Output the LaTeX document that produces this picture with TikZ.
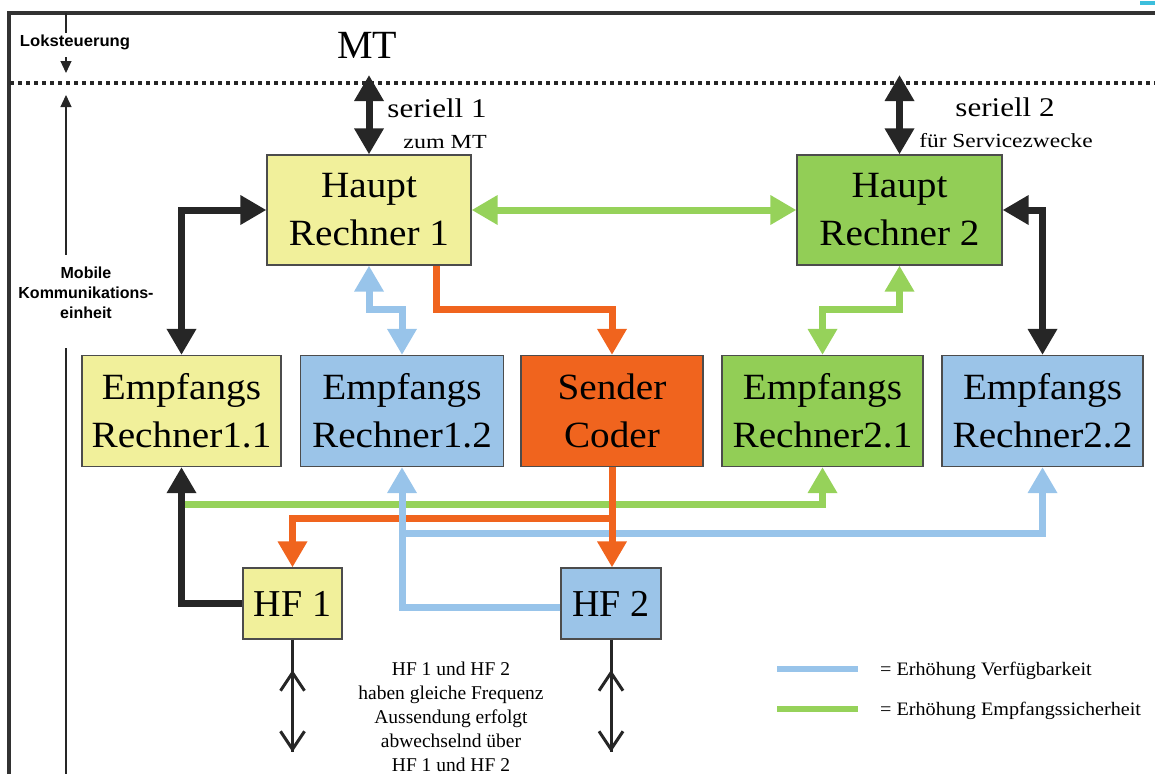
\documentclass[tikz,border=0pt]{standalone}
\usepackage{fontspec}
\setmainfont{Liberation Serif}
\newfontfamily\lsans{Liberation Sans}
\usepackage{graphicx}
\usetikzlibrary{arrows.meta}
\definecolor{dk}{RGB}{38,38,38}
\definecolor{frm}{RGB}{50,50,50}
\definecolor{ybox}{RGB}{241,240,155}
\definecolor{bbox}{RGB}{155,196,232}
\definecolor{gbox}{RGB}{146,206,86}
\definecolor{obox}{RGB}{240,100,30}
\definecolor{gln}{RGB}{150,210,90}
\definecolor{bln}{RGB}{152,196,234}
\definecolor{oln}{RGB}{240,100,30}
\definecolor{cy}{RGB}{60,190,220}
\newcommand\sx[2][1.06]{\scalebox{#1}[1]{#2}}
\begin{document}
\begin{tikzpicture}[x=1pt,y=-1pt,
  >={Triangle[length=26pt,width=28pt]},
  box/.style={draw=black!70,line width=1.2pt,inner sep=0pt,align=center,font=\fontsize{37}{48}\selectfont},
  hrbox/.style={box,minimum width=204pt,minimum height=110pt},
  erbox/.style={box,minimum width=201pt,minimum height=111pt},
  hfbox/.style={box,minimum width=99pt,minimum height=71pt,font=\fontsize{38}{46}\selectfont},
  conn/.style={line width=7pt},
  blk/.style={conn,draw=dk},
  grn/.style={conn,draw=gln},
  blu/.style={conn,draw=bln},
  org/.style={conn,draw=oln},
  ant/.style={line width=3pt,draw=dk},
  thinl/.style={line width=1.2pt,draw=dk},
  lbl/.style={inner sep=0pt},
  sanslbl/.style={inner sep=0pt,align=center,font=\lsans\bfseries\fontsize{16}{20}\selectfont}
]
\useasboundingbox (0,0) rectangle (1155,774);
% frame
\coordinate (fbl) at (9,774);
\coordinate (ftl) at (9,13);
\coordinate (ftr) at (1155,13);
\draw[line width=3.5pt,draw=frm] (fbl) -- (ftl) -- (ftr);
\fill[cy] (1140,1) rectangle (1155,5);
% dotted separator
\coordinate (dl) at (10,83);
\coordinate (dr) at (1155,83);
\draw[line width=4pt,draw=dk,dash pattern=on 4pt off 4pt] (dl) -- (dr);
% left scale line
\coordinate (t0) at (66,13);
\coordinate (t1) at (66,33);
\coordinate (t2) at (66,57);
\coordinate (t3) at (66,73);
\coordinate (t4) at (66,95);
\coordinate (t5) at (66,255);
\coordinate (t6) at (66,348);
\coordinate (t7) at (66,774);
\draw[thinl] (t0) -- (t1);
\draw[thinl,-{Triangle[length=12pt,width=11pt]}] (t2) -- (t3);
\draw[thinl,{Triangle[length=12pt,width=11pt]}-] (t4) -- (t5);
\draw[thinl] (t6) -- (t7);
\node[sanslbl] (lok) at (75,42) {\sx[1.04]{Loksteuerung}};
\node[sanslbl] (mob) at (86,293) {Mobile\\Kommunikations-\\einheit};
% texts top
\node[lbl,font=\fontsize{40}{44}\selectfont] (mt) at (367,45) {MT};
\node[lbl,anchor=base,font=\fontsize{27}{30}\selectfont] (ser1) at (437,117) {\sx[1.15]{seriell 1}};
\node[lbl,anchor=base,font=\fontsize{20}{24}\selectfont] (zum) at (445,148) {\sx[1.2]{zum MT}};
\node[lbl,anchor=base,font=\fontsize{27}{30}\selectfont] (ser2) at (1005,116) {\sx[1.15]{seriell 2}};
\node[lbl,anchor=base,font=\fontsize{20}{24}\selectfont] (svc) at (1006,147) {\sx[1.17]{für Servicezwecke}};
% boxes
\node[hrbox,fill=ybox] (HR1) at (369,210) {\sx{Haupt}\\\sx{Rechner 1}};
\node[hrbox,fill=gbox,minimum width=205pt] (HR2) at (899.5,210) {\sx{Haupt}\\\sx{Rechner 2}};
\node[erbox,fill=ybox,minimum width=199pt] (E11) at (181.5,411) {\sx{Empfangs}\\\sx{Rechner1.1}};
\node[erbox,fill=bbox,minimum width=203pt] (E12) at (402,411) {\sx{Empfangs}\\\sx{Rechner1.2}};
\node[erbox,fill=obox,minimum width=182pt] (SC) at (612,411) {\sx{Sender}\\\sx{Coder}};
\node[erbox,fill=gbox] (E21) at (822.5,411) {\sx{Empfangs}\\\sx{Rechner2.1}};
\node[erbox,fill=bbox] (E22) at (1042.5,411) {\sx{Empfangs}\\\sx{Rechner2.2}};
\node[hfbox,fill=ybox] (HF1) at (292.5,603.5) {HF 1};
\node[hfbox,fill=bbox,minimum width=100pt] (HF2) at (611,603.5) {HF 2};
% upper connectors
\coordinate (s1) at (369,75);
\coordinate (s2) at (899.5,75);
\draw[blk,<->] (s1) -- (HR1.north);
\draw[blk,<->] (s2) -- (HR2.north);
\draw[grn,<->] (HR1.east) -- (HR2.west);
\draw[blk,<->] (E11.north) |- (HR1.west);
\draw[blk,<->] (HR2.east) -| (E22.north);
\draw[blu,<->] (HR1.south) -- ++(0,44) -| (E12.north);
\draw[grn,<->] (HR2.south) -- ++(0,44) -| (E21.north);
\draw[org,->] ([xshift=67pt]HR1.south) -- ++(0,44) -| (SC.north);
% lower connectors
\coordinate (gy) at (0,504);
\coordinate (oy) at (0,518);
\coordinate (by) at (0,533);
\draw[grn,->] (E11.south |- gy) -| (E21.south);
\draw[org,->] (SC.south |- oy) -| (HF1.north);
\draw[blu,->] ([yshift=-4pt]HF2.west) -| (E12.south);
\draw[blu,->] (E12.south |- by) -| (E22.south);
\draw[org,->] (SC.south) -- (SC.south |- HF2.north);
\draw[blk,->] (HF1.west) -| (E11.south);
% antennas
\coordinate (a1) at (292.5,752);
\coordinate (b1) at (292.5,670);
\coordinate (a2) at (611,752);
\coordinate (b2) at (611,670);
\draw[ant,-{Straight Barb[length=18pt,width=24pt]}] (HF1.south) -- (a1);
\draw[ant,{Straight Barb[length=18pt,width=24pt]}-] (b1) -- (a1);
\draw[ant,-{Straight Barb[length=18pt,width=24pt]}] (HF2.south) -- (a2);
\draw[ant,{Straight Barb[length=18pt,width=24pt]}-] (b2) -- (a2);
% note
\node[lbl,align=center,font=\fontsize{19.5}{24}\selectfont] (note) at (451,717) {HF 1 und HF 2\\haben gleiche Frequenz\\Aussendung erfolgt\\abwechselnd über\\HF 1 und HF 2};
% legend
\coordinate (l1a) at (777,669);
\coordinate (l1b) at (858,669);
\coordinate (l2a) at (777,709);
\coordinate (l2b) at (858,709);
\draw[line width=6pt,draw=bln] (l1a) -- (l1b);
\draw[line width=6pt,draw=gln] (l2a) -- (l2b);
\node[lbl,anchor=base west,font=\fontsize{19}{24}\selectfont] (lt1) at (880,675) {\sx{= Erhöhung Verfügbarkeit}};
\node[lbl,anchor=base west,font=\fontsize{19}{24}\selectfont] (lt2) at (880,715) {\sx{= Erhöhung Empfangssicherheit}};
\end{tikzpicture}
\end{document}
